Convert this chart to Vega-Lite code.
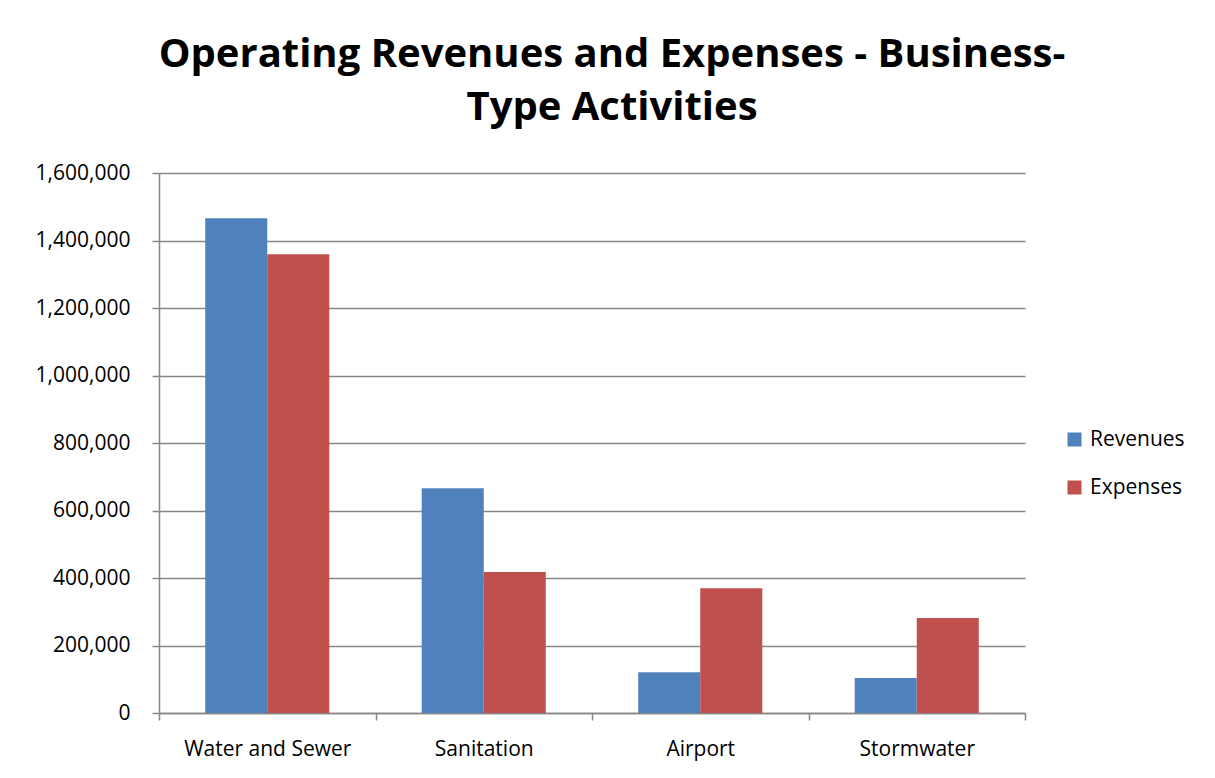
{
  "$schema": "https://vega.github.io/schema/vega-lite/v6.json",
  "autosize": "none",
  "width": 866,
  "height": 540,
  "padding": {"left": 159, "top": 173, "right": 190, "bottom": 65},
  "background": "white",
  "title": {
    "text": ["Operating Revenues and Expenses - Business-", "Type Activities"],
    "fontSize": 40,
    "font": "Open Sans",
    "fontWeight": "bold",
    "color": "#000000",
    "anchor": "middle",
    "frame": "group",
    "dx": 20,
    "lineHeight": 53,
    "offset": 34
  },
  "data": {
    "values": [
      {"activity": "Water and Sewer", "type": "Revenues", "amount": 1466000},
      {"activity": "Water and Sewer", "type": "Expenses", "amount": 1359000},
      {"activity": "Sanitation", "type": "Revenues", "amount": 666000},
      {"activity": "Sanitation", "type": "Expenses", "amount": 418000},
      {"activity": "Airport", "type": "Revenues", "amount": 120500},
      {"activity": "Airport", "type": "Expenses", "amount": 369500},
      {"activity": "Stormwater", "type": "Revenues", "amount": 103700},
      {"activity": "Stormwater", "type": "Expenses", "amount": 281500}
    ]
  },
  "mark": {"type": "bar"},
  "encoding": {
    "x": {
      "field": "activity",
      "type": "nominal",
      "sort": ["Water and Sewer", "Sanitation", "Airport", "Stormwater"],
      "scale": {"paddingInner": 0, "paddingOuter": 0},
      "axis": {
        "title": null,
        "labelAngle": 0,
        "labelFontSize": 21,
        "labelFont": "Open Sans",
        "labelColor": "#000000",
        "labelPadding": 18,
        "tickBand": "extent",
        "tickSize": 7,
        "tickColor": "#868686",
        "tickWidth": 1.5,
        "domainColor": "#868686",
        "domainWidth": 1.5,
        "grid": false
      }
    },
    "xOffset": {
      "field": "type",
      "type": "nominal",
      "sort": ["Revenues", "Expenses"],
      "scale": {"paddingInner": 0, "paddingOuter": 0.745}
    },
    "y": {
      "field": "amount",
      "type": "quantitative",
      "scale": {"domain": [0, 1600000], "nice": false},
      "axis": {
        "title": null,
        "values": [0, 200000, 400000, 600000, 800000, 1000000, 1200000, 1400000, 1600000],
        "format": ",.0f",
        "labelFontSize": 21,
        "labelFont": "Open Sans",
        "labelColor": "#000000",
        "labelPadding": 22,
        "tickSize": 7,
        "tickColor": "#868686",
        "tickWidth": 1.5,
        "domainColor": "#868686",
        "domainWidth": 1.5,
        "gridColor": "#868686",
        "gridWidth": 1.5
      }
    },
    "color": {
      "field": "type",
      "type": "nominal",
      "sort": ["Revenues", "Expenses"],
      "scale": {"domain": ["Revenues", "Expenses"], "range": ["#4F81BD", "#C0504D"]},
      "legend": {
        "title": null,
        "orient": "none",
        "legendX": 905,
        "legendY": 256,
        "symbolType": "square",
        "symbolSize": 196,
        "symbolStrokeWidth": 0,
        "labelFontSize": 21,
        "labelFont": "Open Sans",
        "labelColor": "#000000",
        "labelOffset": 5,
        "rowPadding": 26
      }
    }
  },
  "config": {
    "view": {"stroke": null}
  }
}
